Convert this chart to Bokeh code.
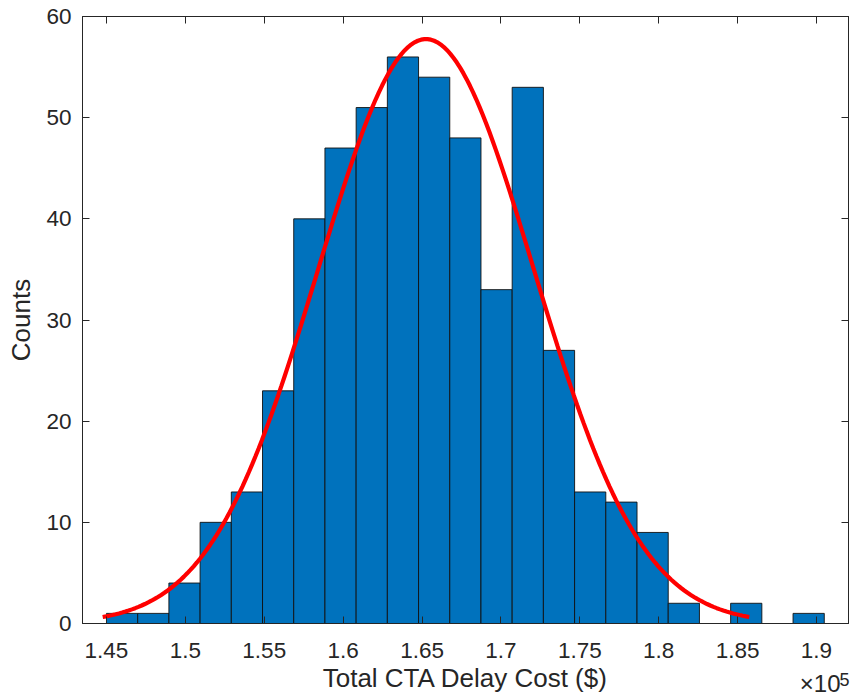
import numpy as np
from bokeh.plotting import figure
from bokeh.models import Range1d, FixedTicker, LinearAxis, Title, ColumnDataSource
from bokeh.embed import file_html
from bokeh.resources import INLINE

# ---- data ----
bin_start = 145000.0          # left edge of first bin ($)
bin_width = 1978.0            # bin width ($)
counts = [1, 1, 4, 10, 13, 23, 40, 47, 51, 56, 54, 48, 33, 53, 27, 13, 12, 9, 2, 0, 2, 0, 1]
fit_mu = 165250.0             # fitted normal mean ($)
fit_sigma = 6830.0            # fitted normal std ($)
x_ticks = [145000, 150000, 155000, 160000, 165000, 170000, 175000, 180000, 185000, 190000]
x_tick_labels = ["1.45", "1.5", "1.55", "1.6", "1.65", "1.7", "1.75", "1.8", "1.85", "1.9"]
y_ticks = [0, 10, 20, 30, 40, 50, 60]

FONT = "Liberation Sans"
DARK = "#262626"

n_bins = len(counts)
lefts = [bin_start + i * bin_width for i in range(n_bins)]
rights = [l + bin_width for l in lefts]
src = ColumnDataSource(dict(left=lefts, right=rights, top=counts, bottom=[0] * n_bins))

# normal fit curve over mean +/- 3 sigma, scaled to histogram area (histfit)
area = sum(counts) * bin_width
xs = np.linspace(fit_mu - 3 * fit_sigma, fit_mu + 3 * fit_sigma, 200)
ys = area * np.exp(-0.5 * ((xs - fit_mu) / fit_sigma) ** 2) / (fit_sigma * np.sqrt(2 * np.pi))

p = figure(width=850, height=698, output_backend="svg", toolbar_location=None,
           x_range=Range1d(143480, 192030), y_range=Range1d(0, 60),
           min_border_left=82, min_border_right=2, min_border_top=16, min_border_bottom=75)
p.background_fill_color = "white"
p.border_fill_color = "white"
p.grid.visible = False
p.outline_line_color = DARK
p.outline_line_width = 1

p.quad(left="left", right="right", top="top", bottom="bottom", source=src,
       fill_color="#0072BD", line_color="#111111", line_width=0.9)
p.line(xs, ys, line_color="#FF0000", line_width=4.2)

for ax in (p.xaxis[0], p.yaxis[0]):
    ax.axis_line_color = DARK
    ax.major_tick_line_color = DARK
    ax.major_tick_in = 7
    ax.major_tick_out = 0
    ax.minor_tick_line_color = None
    ax.major_label_text_font = FONT
    ax.major_label_text_font_size = "22.5px"
    ax.major_label_text_color = DARK
    ax.axis_label_text_font = FONT
    ax.axis_label_text_font_size = "26px"
    ax.axis_label_text_font_style = "normal"
    ax.axis_label_text_color = DARK

p.xaxis[0].ticker = FixedTicker(ticks=x_ticks)
p.xaxis[0].major_label_overrides = {t: l for t, l in zip(x_ticks, x_tick_labels)}
p.xaxis[0].axis_label = "Total CTA Delay Cost ($)"
p.xaxis[0].major_label_standoff = 19
p.xaxis[0].axis_label_standoff = 2
p.yaxis[0].ticker = FixedTicker(ticks=y_ticks)
p.yaxis[0].axis_label = "Counts"
p.yaxis[0].major_label_standoff = 11
p.yaxis[0].axis_label_standoff = 7

# box ticks on top and right (no labels)
top_ax = LinearAxis(ticker=FixedTicker(ticks=x_ticks))
right_ax = LinearAxis(ticker=FixedTicker(ticks=y_ticks))
top_ax.major_label_overrides = {t: "" for t in x_ticks}
right_ax.major_label_overrides = {t: "" for t in y_ticks}
for ax in (top_ax, right_ax):
    ax.axis_line_color = DARK
    ax.major_tick_line_color = DARK
    ax.major_tick_in = 7
    ax.major_tick_out = 0
    ax.minor_tick_line_color = None
    ax.major_label_text_font_size = "1px"
    ax.major_label_text_color = None
    ax.major_label_standoff = 0
p.add_layout(top_ax, "above")
p.add_layout(right_ax, "right")

# exponent annotation (x10^5) as zero-height titles in the bottom panel
exp_base = Title(text="\u00d710", align="right", offset=8, vertical_align="top",
                 standoff=-51, text_font=FONT, text_font_size="24px",
                 text_font_style="normal", text_color=DARK)
exp_pow = Title(text="5", align="right", offset=-1, vertical_align="top",
                standoff=-46, text_font=FONT, text_font_size="18px",
                text_font_style="normal", text_color=DARK)
p.add_layout(exp_base, "below")
p.add_layout(exp_pow, "below")

open("out.html", "w").write(file_html(p, INLINE))
